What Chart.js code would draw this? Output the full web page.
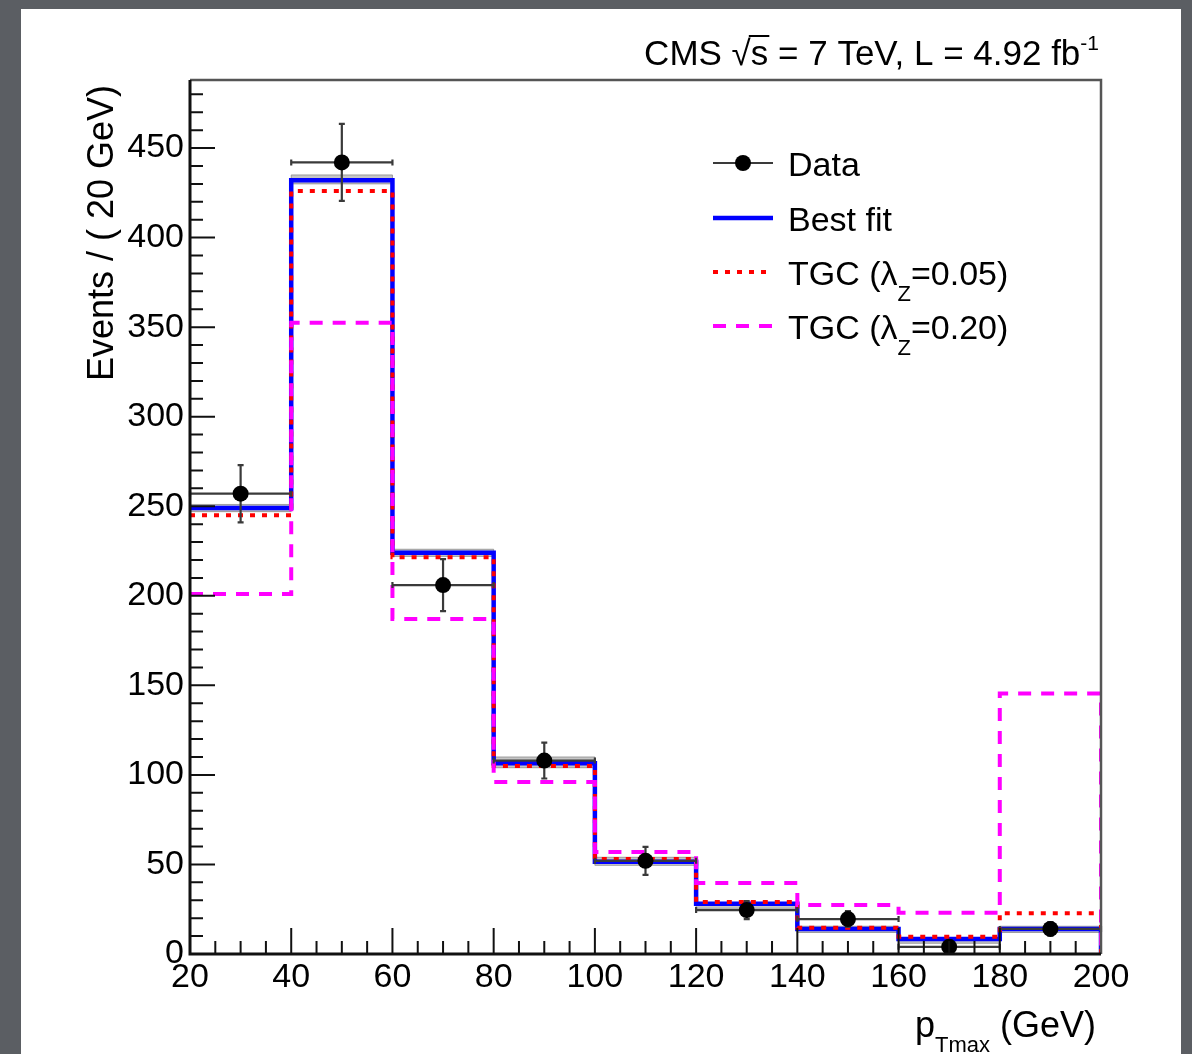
<!DOCTYPE html>
<html>
<head>
<meta charset="utf-8">
<script src="https://cdn.jsdelivr.net/npm/chart.js@4.4.1/dist/chart.umd.min.js"></script>
<style>
  body { margin: 0; background: #5b5e63; }
  canvas { display: block; }
</style>
</head>
<body>
<canvas id="myChart" width="1192" height="1054"></canvas>
<script>
//bordes de los bins de pT max (GeV)
var aristas = [20, 40, 60, 80, 100, 120, 140, 160, 180, 200];
//centros de los bins donde van los puntos de datos
var centros = [30, 50, 70, 90, 110, 130, 150, 170, 190];

//eventos medidos y su error estadístico
var datos = [257, 442, 206, 108, 52, 24.5, 19.5, 4, 14];
var errores = [16, 21.5, 14.5, 10, 7.8, 5, 4.4, 2.2, 3.8];

//histogramas: mejor ajuste y dos acoplamientos anómalos
var mejorAjuste = [249, 432, 224, 106.5, 51.5, 28, 14, 8.4, 14];
var tgc005 = [245, 426, 221.5, 105, 53, 29, 14.7, 9.7, 22.8];
var tgc020 = [201, 352.5, 187, 96, 57, 39.6, 27.3, 23, 145.5];

//banda gris de incertidumbre del mejor ajuste
var bandaBaja = [247, 430, 222, 104, 49.5, 25.5, 12, 6, 12];
var bandaAlta = [251, 435, 226, 110, 54, 28.5, 15.5, 9, 15.5];

//etiquetas de los ejes
var ticksX = [20, 40, 60, 80, 100, 120, 140, 160, 180, 200];
var ticksY = [0, 50, 100, 150, 200, 250, 300, 350, 400, 450];

var fuente = '"Liberation Sans", Arial, Helvetica, sans-serif';

//convierte un histograma en puntos para una línea escalonada (cerrada a la derecha)
function pasos(valores, cerrar) {
    var pts = [];
    for (let i = 0; i < valores.length; i++) {
        pts.push({x: aristas[i], y: valores[i]});
    }
    pts.push({x: aristas[aristas.length - 1], y: valores[valores.length - 1]});
    if (cerrar) pts.push({x: aristas[aristas.length - 1], y: 0});
    return pts;
}

var puntosDatos = centros.map((c, i) => ({x: c, y: datos[i]}));

//fondo gris de la diapositiva y panel blanco
var fondo = {
    id: 'fondo',
    beforeDraw(chart) {
        var ctx = chart.ctx;
        ctx.save();
        ctx.fillStyle = '#5b5e63';
        ctx.fillRect(0, 0, chart.width, chart.height);
        ctx.fillStyle = '#ffffff';
        ctx.fillRect(21, 9, 1160, 1060);
        ctx.restore();
    }
};

//barras de error de los datos (antes de dibujar los puntos)
var barrasError = {
    id: 'barrasError',
    beforeDatasetDraw(chart, args) {
        if (args.index !== 0) return;
        var ctx = chart.ctx;
        var x = chart.scales.x, y = chart.scales.y;
        ctx.save();
        ctx.strokeStyle = '#3a3a3a';
        ctx.lineWidth = 2.2;
        for (let i = 0; i < centros.length; i++) {
            var px = x.getPixelForValue(centros[i]);
            var py = y.getPixelForValue(datos[i]);
            var x1 = x.getPixelForValue(aristas[i]);
            var x2 = x.getPixelForValue(aristas[i + 1]);
            var yA = y.getPixelForValue(datos[i] + errores[i]);
            var yB = y.getPixelForValue(Math.max(0, datos[i] - errores[i]));
            ctx.beginPath();
            ctx.moveTo(x1, py); ctx.lineTo(x2, py);
            ctx.moveTo(x1, py - 3); ctx.lineTo(x1, py + 3);
            ctx.moveTo(x2, py - 3); ctx.lineTo(x2, py + 3);
            ctx.moveTo(px, yA); ctx.lineTo(px, yB);
            ctx.moveTo(px - 3, yA); ctx.lineTo(px + 3, yA);
            ctx.moveTo(px - 3, yB); ctx.lineTo(px + 3, yB);
            ctx.stroke();
        }
        ctx.restore();
    }
};

//marco y ticks hacia adentro al estilo ROOT
var marco = {
    id: 'marco',
    afterDatasetsDraw(chart) {
        var ctx = chart.ctx;
        var a = chart.chartArea;
        var x = chart.scales.x, y = chart.scales.y;
        ctx.save();
        ctx.strokeStyle = '#555';
        ctx.lineWidth = 2.5;
        ctx.beginPath();
        ctx.moveTo(a.left, a.top); ctx.lineTo(a.right, a.top); ctx.lineTo(a.right, a.bottom);
        ctx.stroke();
        ctx.strokeStyle = '#111';
        ctx.lineWidth = 2;
        ctx.beginPath();
        for (var v = x.min + 5; v < x.max; v += 5) {
            var px = x.getPixelForValue(v);
            var largo = (v % 20 === 0) ? 26 : 13;
            ctx.moveTo(px, a.bottom); ctx.lineTo(px, a.bottom - largo);
        }
        for (var w = 10; w < y.max; w += 10) {
            var py = y.getPixelForValue(w);
            var largoY = (w % 50 === 0) ? 25 : 13;
            ctx.moveTo(a.left, py); ctx.lineTo(a.left + largoY, py);
        }
        ctx.stroke();
        ctx.lineWidth = 3;
        ctx.beginPath();
        ctx.moveTo(a.left, a.top); ctx.lineTo(a.left, a.bottom); ctx.lineTo(a.right, a.bottom);
        ctx.stroke();
        ctx.restore();
    }
};

//textos: cabecera, títulos de ejes y leyenda
var textos = {
    id: 'textos',
    afterDraw(chart) {
        var ctx = chart.ctx;
        ctx.save();
        ctx.fillStyle = '#000';
        ctx.textBaseline = 'alphabetic';

        //cabecera CMS
        var f1 = '35px ' + fuente, f2 = '21px ' + fuente;
        var partes = [['CMS ', f1], ['\u221A', f1], ['s', f1], [' = 7 TeV, L = 4.92 fb', f1]];
        ctx.font = f2;
        var anchoSup = ctx.measureText('-1').width;
        var total = anchoSup;
        partes.forEach(p => { ctx.font = p[1]; p.push(ctx.measureText(p[0]).width); total += p[2]; });
        var cx = 1099 - total, base = 65;
        var raizFin = 0;
        partes.forEach((p, i) => {
            ctx.font = p[1];
            ctx.textAlign = 'left';
            ctx.fillText(p[0], cx, base);
            if (i === 1) raizFin = cx + p[2];
            if (i === 2) {
                ctx.strokeStyle = '#000';
                ctx.lineWidth = 2;
                ctx.beginPath();
                ctx.moveTo(raizFin - 2, base - 29);
                ctx.lineTo(cx + p[2] + 1, base - 29);
                ctx.stroke();
            }
            cx += p[2];
        });
        ctx.font = f2;
        ctx.fillText('-1', cx, base - 15);

        //título eje Y
        ctx.save();
        ctx.translate(103, 85);
        ctx.rotate(-Math.PI / 2);
        ctx.font = '36px ' + fuente;
        ctx.textAlign = 'right';
        ctx.textBaseline = 'middle';
        ctx.fillText('Events / ( 20 GeV)', 0, 0);
        ctx.restore();

        //título eje X
        var fx = '36px ' + fuente, fs = '22px ' + fuente;
        ctx.font = fx;
        var wp = ctx.measureText('p').width, wg = ctx.measureText(' (GeV)').width;
        ctx.font = fs;
        var wt = ctx.measureText('Tmax').width;
        var xx = 1096 - wg - wt - wp;
        ctx.textAlign = 'left';
        ctx.font = fx;
        ctx.fillText('p', xx, 1037);
        ctx.font = fs;
        ctx.fillText('Tmax', xx + wp, 1052);
        ctx.font = fx;
        ctx.fillText(' (GeV)', xx + wp + wt, 1037);

        //leyenda
        var ds = chart.data.datasets;
        var filas = [
            {y: 163, ds: null, partes: [['Data']]},
            {y: 218, ds: ds[3], partes: [['Best fit']]},
            {y: 272, ds: ds[2], partes: [['TGC (\u03BB'], ['Z', 'sub'], ['=0.05)']]},
            {y: 326, ds: ds[1], partes: [['TGC (\u03BB'], ['Z', 'sub'], ['=0.20)']]}
        ];
        var fl = '34px ' + fuente, fls = '22px ' + fuente;
        filas.forEach(f => {
            ctx.save();
            if (f.ds) {
                ctx.strokeStyle = f.ds.borderColor;
                ctx.lineWidth = f.ds.borderWidth;
                ctx.setLineDash(f.ds.borderDash || []);
            } else {
                ctx.strokeStyle = '#3a3a3a';
                ctx.lineWidth = 2.2;
            }
            ctx.beginPath();
            ctx.moveTo(713, f.y); ctx.lineTo(773, f.y);
            ctx.stroke();
            if (!f.ds) {
                ctx.fillStyle = '#000';
                ctx.beginPath();
                ctx.arc(743, f.y, 8, 0, Math.PI * 2);
                ctx.fill();
            }
            ctx.restore();
            var tx = 788, tb = f.y + 13;
            f.partes.forEach(p => {
                ctx.font = p[1] === 'sub' ? fls : fl;
                ctx.fillText(p[0], tx, p[1] === 'sub' ? tb + 16 : tb);
                tx += ctx.measureText(p[0]).width;
            });
        });
        ctx.restore();
    }
};

const ctx = document.getElementById('myChart');

var myChart = new Chart(ctx, {
    type: 'line',
    data: {
        datasets: [{
            label: 'Data',
            data: puntosDatos,
            showLine: false,
            pointRadius: 8,
            pointBackgroundColor: '#000',
            pointBorderColor: '#000',
            pointBorderWidth: 0,
            order: 0
        }, {
            label: 'TGC (lambda_Z=0.20)',
            data: pasos(tgc020, true),
            stepped: true,
            borderColor: '#ff00ff',
            borderWidth: 4,
            borderDash: [13, 10],
            pointRadius: 0,
            fill: false,
            order: 1
        }, {
            label: 'TGC (lambda_Z=0.05)',
            data: pasos(tgc005, true),
            stepped: true,
            borderColor: '#ff0000',
            borderWidth: 4,
            borderDash: [5, 7],
            pointRadius: 0,
            fill: false,
            order: 2
        }, {
            label: 'Best fit',
            data: pasos(mejorAjuste, true),
            stepped: true,
            borderColor: '#0000ff',
            borderWidth: 4.5,
            pointRadius: 0,
            fill: false,
            order: 3
        }, {
            label: 'banda baja',
            data: pasos(bandaBaja, false),
            stepped: true,
            borderColor: 'rgba(130,130,130,0.7)',
            borderWidth: 1,
            pointRadius: 0,
            fill: false,
            order: 4
        }, {
            label: 'banda alta',
            data: pasos(bandaAlta, false),
            stepped: true,
            borderColor: 'rgba(130,130,130,0.7)',
            backgroundColor: 'rgba(150,150,150,0.55)',
            borderWidth: 1,
            pointRadius: 0,
            fill: '-1',
            order: 5
        }]
    },
    options: {
        responsive: false,
        animation: false,
        layout: { padding: { top: 80, right: 91, left: 0, bottom: 0 } },
        plugins: {
            legend: { display: false },
            tooltip: { enabled: false }
        },
        scales: {
            x: {
                type: 'linear',
                min: 20,
                max: 200,
                grid: { display: false, drawTicks: false },
                border: { display: false },
                ticks: {
                    stepSize: 20,
                    padding: 3,
                    color: '#000',
                    font: { family: fuente, size: 34 },
                    maxRotation: 0,
                    autoSkip: false,
                    callback: v => ticksX.includes(v) ? v : ''
                },
                afterFit: function(s) { s.height = 100; }
            },
            y: {
                min: 0,
                max: 488,
                grid: { display: false, drawTicks: false },
                border: { display: false },
                ticks: {
                    stepSize: 50,
                    includeBounds: false,
                    padding: 6,
                    color: '#000',
                    font: { family: fuente, size: 34 },
                    callback: v => ticksY.includes(v) ? v : ''
                },
                afterFit: function(s) { s.width = 190; }
            }
        }
    },
    plugins: [fondo, barrasError, marco, textos]
});
</script>
</body>
</html>
